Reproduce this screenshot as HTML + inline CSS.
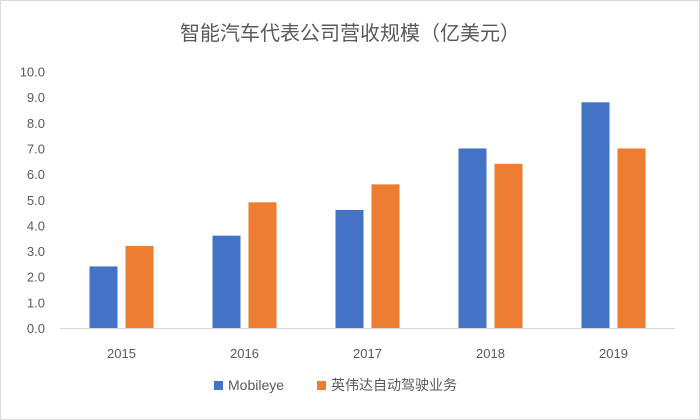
<!DOCTYPE html>
<html><head><meta charset="utf-8"><style>
body{margin:0;background:#fff}
svg{display:block;font-family:"Liberation Sans","Noto Sans CJK SC",sans-serif}
</style></head><body>
<svg width="700" height="420">
<rect x="0.5" y="0.5" width="699" height="419" fill="#fff" stroke="#d9d9d9"/>
<text x="350" y="40" text-anchor="middle" font-size="20" fill="#595959">智能汽车代表公司营收规模（亿美元）</text>
<g id="yt"></g><g id="bars"></g><g id="xt"></g>
<line x1="60" y1="328.5" x2="675" y2="328.5" stroke="#d9d9d9"/>
<g>
<rect x="214" y="381" width="9" height="9" fill="#4472c4"/>
<text x="228" y="390" font-size="14" fill="#595959">Mobileye</text>
<rect x="317" y="381" width="9" height="9" fill="#ed7d31"/>
<text x="331" y="390" font-size="14" fill="#595959">英伟达自动驾驶业务</text>
</g>
</svg>
<script>
const categories=["2015","2016","2017","2018","2019"];
const mobileye=[2.4,3.6,4.6,7.0,8.8];
const nvidia=[3.2,4.9,5.6,6.4,7.0];
const yTicks=[0,1,2,3,4,5,6,7,8,9,10];
const NS="http://www.w3.org/2000/svg";
const x0=60,x1=675,yb=328,yt=71.5,ymax=10;
const y=v=>yb-(v/ymax)*(yb-yt);
const step=(x1-x0)/categories.length;
const cx=i=>x0+step*(i+0.5);
function mk(t,a,p){const e=document.createElementNS(NS,t);for(const k in a)e.setAttribute(k,a[k]);p.appendChild(e);return e;}
const gy=document.getElementById('yt'),gb=document.getElementById('bars'),gx=document.getElementById('xt');
yTicks.forEach(v=>{const t=mk('text',{x:45,y:y(v)+5,'text-anchor':'end','font-size':13,fill:'#595959'},gy);t.textContent=v.toFixed(1);

});
const bw=28,gap=8;
categories.forEach((c,i)=>{
const a=mk('rect',{x:cx(i)-gap/2-bw,y:y(mobileye[i]),width:bw,height:yb-y(mobileye[i]),fill:'#4472c4'},gb);


const b=mk('rect',{x:cx(i)+gap/2,y:y(nvidia[i]),width:bw,height:yb-y(nvidia[i]),fill:'#ed7d31'},gb);


const t=mk('text',{x:cx(i),y:358,'text-anchor':'middle','font-size':13,fill:'#595959'},gx);t.textContent=c;


});
</script>
</body></html>
